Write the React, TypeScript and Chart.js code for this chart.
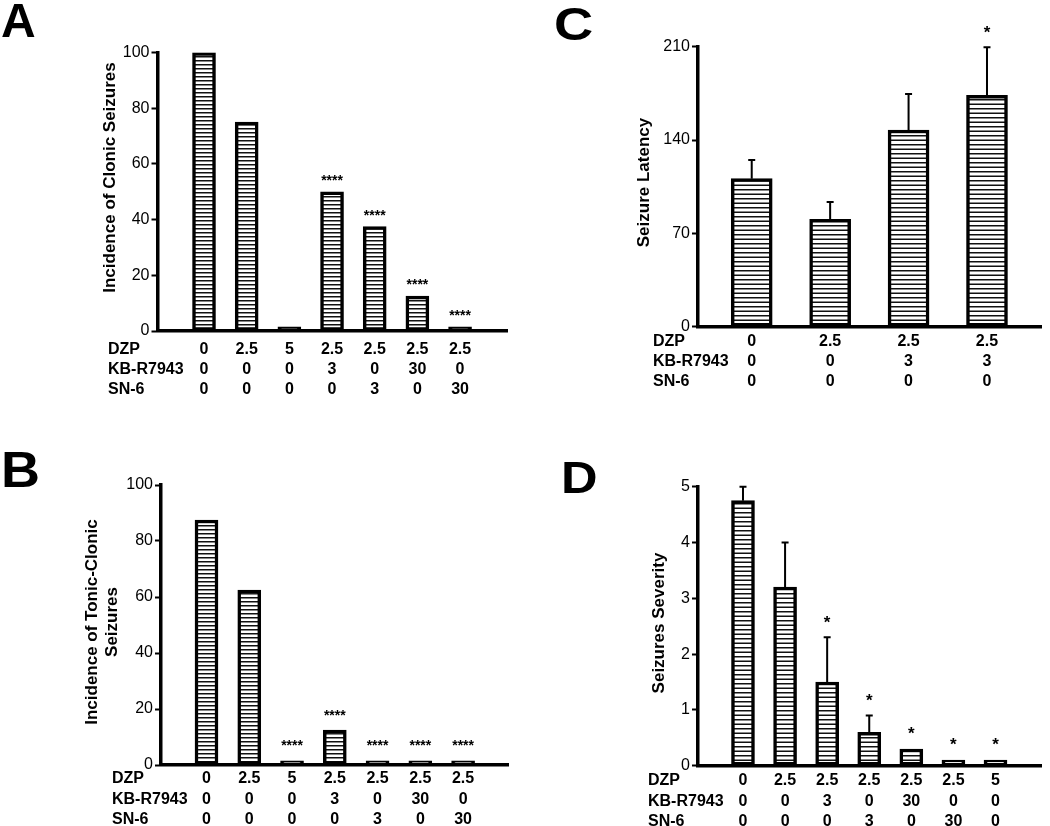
import React, { useEffect, useRef } from 'react';
import { Chart, registerables } from 'chart.js';

Chart.register(...registerables);

const FONT = "'Liberation Sans', Arial, Helvetica, sans-serif";
Chart.defaults.font.family = FONT;

const rowNames = ['DZP', 'KB-R7943', 'SN-6'];

// ---- Panel A: Incidence of Clonic Seizures ----
const aValues = [100, 75, 1.5, 50, 37.5, 12.5, 1.5];
const aErrors = [0, 0, 0, 0, 0, 0, 0];
const aStars = ['', '', '', '****', '****', '****', '****'];
const aDZP = ['0', '2.5', '5', '2.5', '2.5', '2.5', '2.5'];
const aKB = ['0', '0', '0', '3', '0', '30', '0'];
const aSN = ['0', '0', '0', '0', '3', '0', '30'];

// ---- Panel B: Incidence of Tonic-Clonic Seizures ----
const bValues = [87.5, 62.5, 1.5, 12.5, 1.5, 1.5, 1.5];
const bErrors = [0, 0, 0, 0, 0, 0, 0];
const bStars = ['', '', '****', '****', '****', '****', '****'];
const bDZP = ['0', '2.5', '5', '2.5', '2.5', '2.5', '2.5'];
const bKB = ['0', '0', '0', '3', '0', '30', '0'];
const bSN = ['0', '0', '0', '0', '3', '0', '30'];

// ---- Panel C: Seizure Latency ----
const cValues = [111, 80.5, 147.5, 173.5];
const cErrors = [14, 13, 27, 36];
const cStars = ['', '', '', '*'];
const cDZP = ['0', '2.5', '2.5', '2.5'];
const cKB = ['0', '0', '3', '3'];
const cSN = ['0', '0', '0', '0'];

// ---- Panel D: Seizures Severity ----
const dValues = [4.75, 3.2, 1.5, 0.6, 0.3, 0.1, 0.1];
const dErrors = [0.25, 0.8, 0.8, 0.3, 0, 0, 0];
const dStars = ['', '', '*', '*', '*', '*', '*'];
const dDZP = ['0', '2.5', '2.5', '2.5', '2.5', '2.5', '5'];
const dKB = ['0', '0', '3', '0', '30', '0', '0'];
const dSN = ['0', '0', '0', '3', '0', '30', '0'];

type PanelCfg = {
  letter: string;
  letterX: number;
  letterBase: number;
  letterSize: number;
  letterScaleX: number;
  box: { x: number; y: number; w: number; h: number };
  area: { left: number; top: number; right: number; bottom: number };
  xMin: number;
  xMax: number;
  yMax: number;
  yStep: number;
  barThickness: number;
  period: number;
  values: number[];
  errors: number[];
  stars: string[];
  starGap: number;
  starSize: number;
  rows: string[][];
  rowLabelX: number;
  rowOffsets: number[];
  title: string[];
  titleX: number[];
  titleY: number;
};

const panels: PanelCfg[] = [
  {
    letter: 'A', letterX: 1, letterBase: 36.5, letterSize: 48, letterScaleX: 1,
    box: { x: 0, y: 0, w: 525, h: 413 },
    area: { left: 157.5, top: 52.5, right: 507, bottom: 331 },
    xMin: -1.09, xMax: 7.1, yMax: 100, yStep: 20, barThickness: 23, period: 4,
    values: aValues, errors: aErrors, stars: aStars, starGap: 15, starSize: 14,
    rows: [aDZP, aKB, aSN], rowLabelX: 108, rowOffsets: [17.3, 37.3, 57.3],
    title: ['Incidence of Clonic Seizures'], titleX: [115], titleY: 177.5,
  },
  {
    letter: 'B', letterX: 1, letterBase: 487, letterSize: 50, letterScaleX: 1.08,
    box: { x: 0, y: 413, w: 525, h: 413 },
    area: { left: 161, top: 485, right: 508, bottom: 765 },
    xMin: -1.064, xMax: 7.05, yMax: 100, yStep: 20, barThickness: 23, period: 4,
    values: bValues, errors: bErrors, stars: bStars, starGap: 18.5, starSize: 14,
    rows: [bDZP, bKB, bSN], rowLabelX: 112, rowOffsets: [12.7, 33.3, 53.3],
    title: ['Incidence of Tonic-Clonic', 'Seizures'], titleX: [97, 117.3], titleY: 622,
  },
  {
    letter: 'C', letterX: 554, letterBase: 40, letterSize: 46, letterScaleX: 1.18,
    box: { x: 525, y: 0, w: 525, h: 413 },
    area: { left: 698, top: 46.7, right: 1041.5, bottom: 326.7 },
    xMin: -0.685, xMax: 3.695, yMax: 210, yStep: 70, barThickness: 41, period: 4.5,
    values: cValues, errors: cErrors, stars: cStars, starGap: 19.4, starSize: 17,
    rows: [cDZP, cKB, cSN], rowLabelX: 653, rowOffsets: [13.3, 33.3, 53.3],
    title: ['Seizure Latency'], titleX: [649], titleY: 182.5,
  },
  {
    letter: 'D', letterX: 561, letterBase: 493, letterSize: 44, letterScaleX: 1.15,
    box: { x: 525, y: 413, w: 525, h: 413 },
    area: { left: 698, top: 486.7, right: 1041.5, bottom: 765.7 },
    xMin: -1.069, xMax: 7.093, yMax: 5, yStep: 1, barThickness: 23, period: 4.5,
    values: dValues, errors: dErrors, stars: dStars, starGap: 19.5, starSize: 17,
    rows: [dDZP, dKB, dSN], rowLabelX: 648, rowOffsets: [13.3, 34.3, 54.3],
    title: ['Seizures Severity'], titleX: [664], titleY: 623,
  },
];

function makePattern(ctx: CanvasRenderingContext2D, period: number) {
  const pc = document.createElement('canvas');
  const h = period % 1 === 0 ? period : period * 2;
  pc.width = 8;
  pc.height = h;
  const p = pc.getContext('2d')!;
  p.fillStyle = '#ffffff';
  p.fillRect(0, 0, 8, h);
  p.fillStyle = '#111111';
  for (let y = 0; y < h - 0.01; y += period) {
    p.fillRect(0, y, 8, 1.5);
  }
  return ctx.createPattern(pc, 'repeat')!;
}

function Panel({ cfg }: { cfg: PanelCfg }) {
  const ref = useRef<HTMLCanvasElement>(null);

  useEffect(() => {
    const canvas = ref.current!;
    const ctx2d = canvas.getContext('2d')!;
    const pattern = makePattern(ctx2d, cfg.period);
    const { box, area } = cfg;
    const ox = box.x;
    const oy = box.y;

    const decor = {
      id: 'decor' + cfg.letter,
      afterDraw(chart: any) {
        const ctx: CanvasRenderingContext2D = chart.ctx;
        const xs = chart.scales.x;
        const ys = chart.scales.y;
        ctx.save();
        ctx.fillStyle = '#000';
        ctx.strokeStyle = '#000';

        // error bars
        ctx.lineWidth = 2;
        cfg.values.forEach((v, i) => {
          const e = cfg.errors[i];
          if (!e) return;
          const x = xs.getPixelForValue(i);
          const y0 = ys.getPixelForValue(v);
          const y1 = ys.getPixelForValue(v + e);
          ctx.beginPath();
          ctx.moveTo(x, y0);
          ctx.lineTo(x, y1);
          ctx.moveTo(x - 3.5, y1);
          ctx.lineTo(x + 3.5, y1);
          ctx.stroke();
        });

        // significance stars
        ctx.font = `bold ${cfg.starSize}px ${FONT}`;
        ctx.textAlign = 'center';
        ctx.textBaseline = 'alphabetic';
        cfg.values.forEach((v, i) => {
          const s = cfg.stars[i];
          if (!s) return;
          const x = xs.getPixelForValue(i);
          const yc = ys.getPixelForValue(v + cfg.errors[i]) - cfg.starGap;
          ctx.fillText(s, x, yc + 0.58 * cfg.starSize);
        });

        // treatment table
        ctx.font = `bold 16px ${FONT}`;
        const bottom = ys.getPixelForValue(0);
        cfg.rows.forEach((row, r) => {
          const y = bottom + cfg.rowOffsets[r] + 0.358 * 16;
          ctx.textAlign = 'left';
          ctx.fillText(rowNames[r], cfg.rowLabelX - ox, y);
          ctx.textAlign = 'center';
          row.forEach((t, i) => {
            ctx.fillText(t, xs.getPixelForValue(i), y);
          });
        });

        // y-axis title
        ctx.font = `bold 17px ${FONT}`;
        ctx.textAlign = 'center';
        cfg.title.forEach((line, j) => {
          ctx.save();
          ctx.translate(cfg.titleX[j] - ox, cfg.titleY - oy);
          ctx.rotate(-Math.PI / 2);
          ctx.fillText(line, 0, 0);
          ctx.restore();
        });

        // panel letter
        ctx.font = `bold ${cfg.letterSize}px ${FONT}`;
        ctx.textAlign = 'left';
        ctx.save();
        ctx.translate(cfg.letterX - ox, cfg.letterBase - oy);
        ctx.scale(cfg.letterScaleX, 1);
        ctx.fillText(cfg.letter, 0, 0);
        ctx.restore();
        ctx.restore();
      },
    };

    const chart = new Chart(canvas, {
      type: 'bar',
      data: {
        datasets: [
          {
            data: cfg.values.map((v, i) => ({ x: i, y: v })) as any,
            backgroundColor: pattern as any,
            borderColor: '#000',
            borderWidth: 3.5,
            borderSkipped: false,
            barThickness: cfg.barThickness,
          },
        ],
      },
      options: {
        animation: false,
        responsive: false,
        events: [],
        layout: {
          padding: {
            left: 0,
            top: area.top - oy,
            right: ox + box.w - area.right,
            bottom: 0,
          },
        },
        plugins: {
          legend: { display: false },
          tooltip: { enabled: false },
        },
        scales: {
          x: {
            type: 'linear',
            min: cfg.xMin,
            max: cfg.xMax,
            offset: false,
            grid: { display: false },
            ticks: { display: false },
            border: { display: true, color: '#000', width: 3.5 },
            afterFit: (s: any) => {
              s.height = oy + box.h - area.bottom;
            },
          },
          y: {
            type: 'linear',
            min: 0,
            max: cfg.yMax,
            ticks: {
              stepSize: cfg.yStep,
              color: '#000',
              font: { family: FONT, size: 16 },
              padding: 2,
            },
            grid: {
              display: true,
              drawOnChartArea: false,
              drawTicks: true,
              tickLength: 6,
              tickWidth: 2,
              tickColor: '#000',
            },
            border: { display: true, color: '#000', width: 3.5 },
            afterFit: (s: any) => {
              s.width = area.left - ox;
            },
          },
        },
      },
      plugins: [decor],
    } as any);

    return () => chart.destroy();
  }, [cfg]);

  return (
    <canvas
      ref={ref}
      width={cfg.box.w}
      height={cfg.box.h}
      style={{
        position: 'absolute',
        left: cfg.box.x,
        top: cfg.box.y,
        width: cfg.box.w,
        height: cfg.box.h,
      }}
    />
  );
}

export default function App() {
  return (
    <div
      style={{
        position: 'absolute',
        left: 0,
        top: 0,
        width: 1050,
        height: 826,
        background: '#fff',
        overflow: 'hidden',
      }}
    >
      {panels.map((p) => (
        <Panel key={p.letter} cfg={p} />
      ))}
    </div>
  );
}
